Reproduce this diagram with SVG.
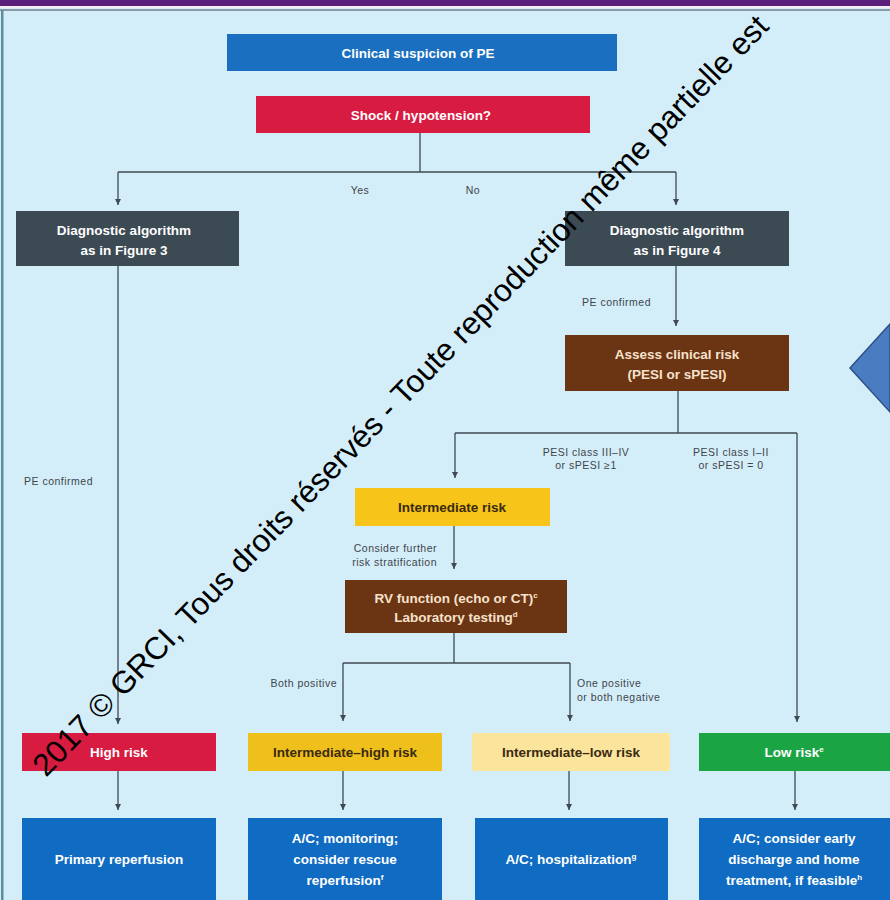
<svg xmlns="http://www.w3.org/2000/svg" width="890" height="900" viewBox="0 0 890 900">
<defs>
<marker id="ah" viewBox="0 0 6 6" refX="6" refY="3" markerWidth="6" markerHeight="6" orient="auto" markerUnits="userSpaceOnUse">
<path d="M0,0 L6,3 L0,6 z" fill="#3f4a52"/>
</marker>
<style>
.bt{font-family:"Liberation Sans",Arial,sans-serif;font-weight:bold;font-size:13.5px;text-anchor:middle}
.w{fill:#ffffff}
.c{fill:#f6e2cc}
.d{fill:#3a2a10}
.lb{font-family:"Liberation Sans",Arial,sans-serif;font-size:10.5px;letter-spacing:0.5px;fill:#3e454b}
.ln{stroke:#3f4a52;stroke-width:1.3;fill:none}
.sp{font-size:8px}
</style>
</defs>
<rect x="0" y="0" width="890" height="900" fill="#d4eef9"/>
<rect x="0" y="0" width="890" height="6" fill="#5b1e7a"/>
<rect x="0" y="6" width="890" height="2" fill="#f2eef4"/>
<rect x="0" y="9" width="890" height="2" fill="#8a9aa6"/>
<rect x="1" y="10" width="2.5" height="890" fill="#5e8d9e"/>

<polygon points="890,324 850,368 890,412" fill="#4a7cc2" stroke="#2e4f86" stroke-width="1.5"/>

<g id="connectors">
<path class="ln" d="M420,133 V172 M118,172 H676"/>
<path class="ln" d="M118,172 V205" marker-end="url(#ah)"/>
<path class="ln" d="M676,172 V205" marker-end="url(#ah)"/>
<path class="ln" d="M118,266 V724" marker-end="url(#ah)"/>
<path class="ln" d="M676,266 V326" marker-end="url(#ah)"/>
<path class="ln" d="M678,391 V433 M455,433 H797"/>
<path class="ln" d="M455,433 V478" marker-end="url(#ah)"/>
<path class="ln" d="M797,433 V722" marker-end="url(#ah)"/>
<path class="ln" d="M454,526 V569" marker-end="url(#ah)"/>
<path class="ln" d="M454,633 V663 M343,663 H570"/>
<path class="ln" d="M343,663 V721" marker-end="url(#ah)"/>
<path class="ln" d="M570,663 V721" marker-end="url(#ah)"/>
<path class="ln" d="M118,771 V810" marker-end="url(#ah)"/>
<path class="ln" d="M343,771 V810" marker-end="url(#ah)"/>
<path class="ln" d="M569,771 V810" marker-end="url(#ah)"/>
<path class="ln" d="M795,771 V810" marker-end="url(#ah)"/>
</g>

<g id="labels">
<text class="lb" x="360" y="194" text-anchor="middle">Yes</text>
<text class="lb" x="473" y="194" text-anchor="middle">No</text>
<text class="lb" x="24" y="485">PE confirmed</text>
<text class="lb" x="582" y="306">PE confirmed</text>
<text class="lb" x="586" y="456" text-anchor="middle">PESI class III–IV</text>
<text class="lb" x="586" y="469" text-anchor="middle">or sPESI ≥1</text>
<text class="lb" x="731" y="456" text-anchor="middle">PESI class I–II</text>
<text class="lb" x="731" y="469" text-anchor="middle">or sPESI = 0</text>
<text class="lb" x="437" y="552" text-anchor="end">Consider further</text>
<text class="lb" x="437" y="566" text-anchor="end">risk stratification</text>
<text class="lb" x="337" y="687" text-anchor="end">Both positive</text>
<text class="lb" x="577" y="687">One positive</text>
<text class="lb" x="577" y="701">or both negative</text>
</g>

<g id="n-suspicion"><rect x="227" y="34" width="390" height="37" fill="#1a6fc0"/><text class="bt w" x="418" y="57.5">Clinical suspicion of PE</text></g>
<g id="n-shock"><rect x="256" y="96" width="334" height="37" fill="#d81b40"/><text class="bt w" x="421" y="119.5">Shock / hypotension?</text></g>
<g id="n-fig3"><rect x="16" y="211" width="223" height="55" fill="#3c4a54"/><text class="bt w" x="124" y="235">Diagnostic algorithm</text><text class="bt w" x="124" y="255">as in Figure 3</text></g>
<g id="n-fig4"><rect x="565" y="211" width="224" height="55" fill="#3c4a54"/><text class="bt w" x="677" y="235">Diagnostic algorithm</text><text class="bt w" x="677" y="255">as in Figure 4</text></g>
<g id="n-assess"><rect x="565" y="335" width="224" height="56" fill="#6b3413"/><text class="bt c" x="677" y="359">Assess clinical risk</text><text class="bt c" x="677" y="379">(PESI or sPESI)</text></g>
<g id="n-intermediate"><rect x="355" y="488" width="195" height="38" fill="#f7c51a"/><text class="bt d" x="452" y="512">Intermediate risk</text></g>
<g id="n-rv"><rect x="345" y="580" width="222" height="53" fill="#6b3413"/><text class="bt c" x="456" y="603">RV function (echo or CT)<tspan class="sp" dy="-5">c</tspan></text><text class="bt c" x="456" y="622">Laboratory testing<tspan class="sp" dy="-5">d</tspan></text></g>
<g id="n-high"><rect x="22" y="733" width="194" height="38" fill="#d81b40"/><text class="bt w" x="119" y="757">High risk</text></g>
<g id="n-inthigh"><rect x="248" y="733" width="194" height="38" fill="#efbf1c"/><text class="bt d" x="345" y="757">Intermediate–high risk</text></g>
<g id="n-intlow"><rect x="472" y="733" width="198" height="38" fill="#fbe49c"/><text class="bt d" x="571" y="757">Intermediate–low risk</text></g>
<g id="n-low"><rect x="699" y="733" width="195" height="38" fill="#1ba444"/><text class="bt w" x="794" y="757">Low risk<tspan class="sp" dy="-5">e</tspan></text></g>
<g id="n-primary"><rect x="22" y="818" width="194" height="90" fill="#0f6cc2"/><text class="bt w" x="119" y="864">Primary reperfusion</text></g>
<g id="n-monitor"><rect x="248" y="818" width="194" height="90" fill="#0f6cc2"/><text class="bt w" x="345" y="843">A/C; monitoring;</text><text class="bt w" x="345" y="864">consider rescue</text><text class="bt w" x="345" y="885">reperfusion<tspan class="sp" dy="-5">f</tspan></text></g>
<g id="n-hosp"><rect x="475" y="818" width="193" height="90" fill="#0f6cc2"/><text class="bt w" x="571" y="864">A/C; hospitalization<tspan class="sp" dy="-5">g</tspan></text></g>
<g id="n-home"><rect x="699" y="818" width="195" height="90" fill="#0f6cc2"/><text class="bt w" x="794" y="843">A/C; consider early</text><text class="bt w" x="794" y="864">discharge and home</text><text class="bt w" x="794" y="885">treatment, if feasible<tspan class="sp" dy="-5">h</tspan></text></g>

<text x="46" y="778" transform="rotate(-46 46 778)" font-family="Liberation Sans, Arial, sans-serif" font-size="31.5" fill="#000000">2017 © GRCI, Tous droits réservés - Toute reproduction même partielle est</text>
</svg>
